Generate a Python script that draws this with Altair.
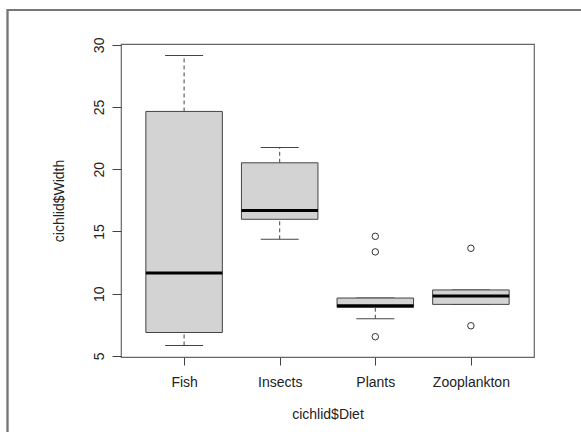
import altair as alt
import pandas as pd

# Box statistics (cichlid$Width by cichlid$Diet)
diets = ["Fish", "Insects", "Plants", "Zooplankton"]
lower = [5.84, 14.37, 7.99, 9.14]
q1 = [6.88, 15.98, 8.90, 9.14]
median = [11.67, 16.68, 9.02, 9.81]
q3 = [24.65, 20.52, 9.65, 10.30]
upper = [29.14, 21.75, 9.65, 10.30]

out_diet = ["Plants", "Plants", "Plants", "Zooplankton", "Zooplankton"]
out_val = [14.61, 13.36, 6.54, 13.65, 7.42]

y_ticks = [5, 10, 15, 20, 25, 30]

box = pd.DataFrame({"diet": diets, "lower": lower, "q1": q1, "median": median,
                    "q3": q3, "upper": upper})
outl = pd.DataFrame({"diet": out_diet, "value": out_val})

FONT = "Liberation Sans"
LINE = "#444444"

x_scale = alt.Scale(type="point", padding=0.66, domain=diets)
x_axis = alt.Axis(labelAngle=0, domain=False, grid=False, tickSize=8, tickColor=LINE,
                  labelPadding=10, labelFontSize=14, labelFont=FONT, labelColor="#222",
                  titleFontSize=14, titleFont=FONT, titleFontWeight="normal", titleColor="#222",
                  titleY=50, titleX=206.5, titleBaseline="top")
y_scale = alt.Scale(domain=[4.91, 30.07], nice=False, zero=False)
y_axis = alt.Axis(values=y_ticks, domain=False, grid=False, tickSize=9, tickColor=LINE,
                  labelAngle=270, labelAlign="center", labelBaseline="alphabetic",
                  labelPadding=9, labelFontSize=14, labelFont=FONT, labelColor="#222",
                  titleFontSize=14, titleFont=FONT, titleFontWeight="normal", titleColor="#222",
                  titleAngle=270, titleX=-62, titleY=156.5, titleBaseline="middle",
                  titleAlign="center")


def X():
    return alt.X("diet:N", scale=x_scale, axis=x_axis, title="cichlid$Diet")


def Y(field):
    return alt.Y(f"{field}:Q", scale=y_scale, axis=y_axis, title="cichlid$Width")


base = alt.Chart(box)

frame = alt.Chart(box).mark_rect(fill=None, stroke="#777777", strokeWidth=1.5).encode(
    x=alt.value(-113.5), x2=alt.value(600), y=alt.value(-34), y2=alt.value(500)
)

whisk_up = base.mark_rule(color=LINE, strokeDash=[4, 3], strokeWidth=1).encode(
    x=X(), y=Y("q3"), y2="upper:Q")
whisk_lo = base.mark_rule(color=LINE, strokeDash=[4, 3], strokeWidth=1).encode(
    x=X(), y=Y("lower"), y2="q1:Q")
cap_up = base.mark_tick(color=LINE, size=38, thickness=1, opacity=1).encode(
    x=X(), y=Y("upper"))
cap_lo = base.mark_tick(color=LINE, size=38, thickness=1, opacity=1).encode(
    x=X(), y=Y("lower"))
boxes = base.mark_bar(size=76.5, fill="#D3D3D3", stroke=LINE, strokeWidth=1).encode(
    x=X(), y=Y("q1"), y2="q3:Q")
med = base.mark_tick(color="black", size=76.5, thickness=3, opacity=1).encode(
    x=X(), y=Y("median"))
pts = alt.Chart(outl).mark_point(shape="circle", size=42, filled=False, stroke="#333333",
                                  strokeWidth=1, opacity=1).encode(
    x=X(), y=Y("value"))

chart = alt.layer(frame, whisk_up, whisk_lo, cap_up, cap_lo, boxes, med, pts).properties(
    width=413, height=313,
    autosize=alt.AutoSizeParams(type="none"),
    padding={"left": 121, "top": 44, "right": 47, "bottom": 75},
    background="white",
).configure_view(stroke="#666666", strokeWidth=1.2)

chart.save("out.html", embed_options={"renderer": "svg", "actions": False})
